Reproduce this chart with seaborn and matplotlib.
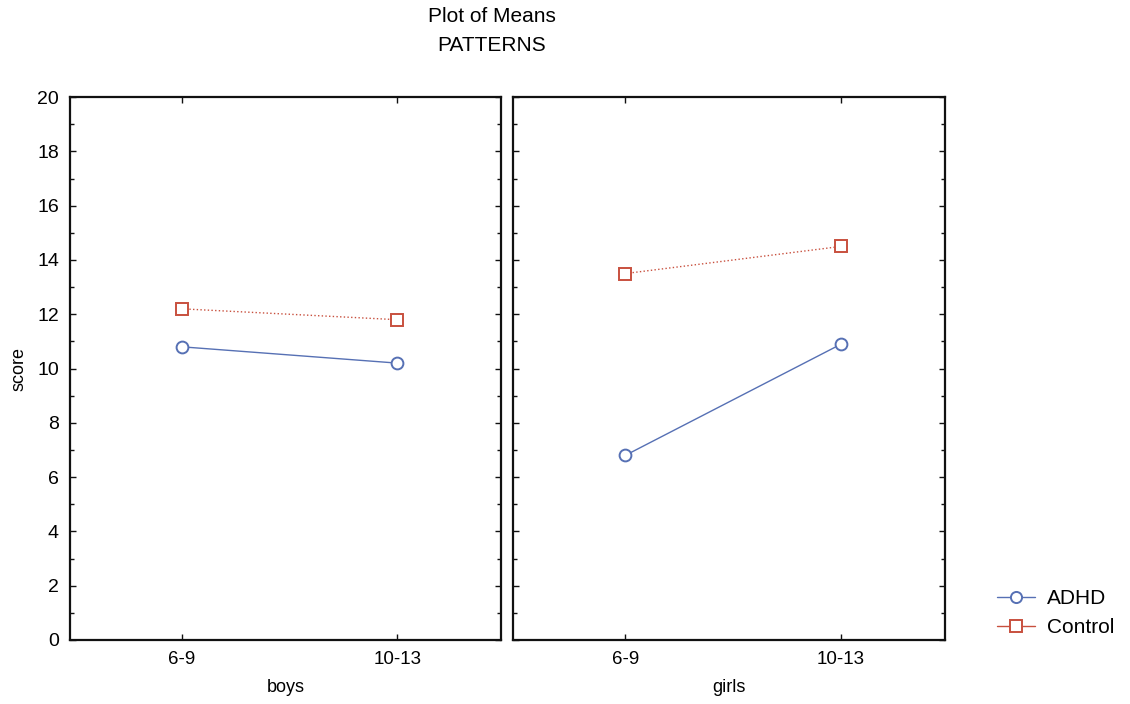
import matplotlib
matplotlib.use("Agg")
import matplotlib.pyplot as plt
from matplotlib.lines import Line2D
from matplotlib.ticker import MultipleLocator
import numpy as np
import pandas as pd
import seaborn as sns

# Mean PATTERNS score by sex, age band and group
sexes = ["boys", "girls"]
ages = ["6-9", "10-13"]
groups = ["ADHD", "Control"]
boys_adhd = [10.8, 10.2]
boys_control = [12.2, 11.8]
girls_adhd = [6.8, 10.9]
girls_control = [13.5, 14.5]

means = {
    ("boys", "ADHD"): boys_adhd,
    ("boys", "Control"): boys_control,
    ("girls", "ADHD"): girls_adhd,
    ("girls", "Control"): girls_control,
}
rows = []
for (sex, grp), vals in means.items():
    for age, v in zip(ages, vals):
        rows.append({"sex": sex, "age": age, "group": grp, "score": v})
df = pd.DataFrame(rows)

sns.set_theme(style="white")
plt.rcParams["font.family"] = ["Liberation Sans", "DejaVu Sans"]
plt.rcParams["text.color"] = "black"
plt.rcParams["axes.labelcolor"] = "black"
plt.rcParams["xtick.color"] = "black"
plt.rcParams["ytick.color"] = "black"

colors = {"ADHD": "#5670b4", "Control": "#c8503e"}
markers = {"ADHD": "o", "Control": "s"}
styles = {"ADHD": "-", "Control": ":"}

fig = plt.figure(figsize=(11.3, 7.04), dpi=100)
ax_left = fig.add_axes([0.062, 0.091, 0.381, 0.771])
ax_right = fig.add_axes([0.454, 0.091, 0.382, 0.771], sharey=ax_left)
axes = [ax_left, ax_right]

for ax, sex in zip(axes, sexes):
    sub = df[df["sex"] == sex]
    for grp in groups:
        g = sub[sub["group"] == grp].copy()
        g["pos"] = [ages.index(a) for a in g["age"]]
        sns.lineplot(
            data=g, x="pos", y="score", ax=ax, color=colors[grp],
            marker=markers[grp], markersize=8.5 if grp == "ADHD" else 8,
            markerfacecolor="white", markeredgecolor=colors[grp],
            markeredgewidth=1.4, linestyle=styles[grp],
            linewidth=1.0, legend=False, errorbar=None,
        )
    ax.set_xlim(-0.52, 1.48)
    ax.set_ylim(0, 20)
    ax.set_xticks(range(len(ages)))
    ax.set_xticklabels(ages, fontsize=13.5)
    ax.yaxis.set_major_locator(MultipleLocator(2))
    ax.yaxis.set_minor_locator(MultipleLocator(1))
    ax.tick_params(axis="both", which="both", direction="in",
                   top=True, right=True, left=True, bottom=True,
                   color="#111111")
    ax.tick_params(axis="both", which="major", length=4, width=1)
    ax.tick_params(axis="y", which="minor", length=3, width=1)
    ax.tick_params(axis="x", which="major", pad=8)
    ax.set_xlabel(sex, fontsize=13, labelpad=8)
    for sp in ax.spines.values():
        sp.set_visible(True)
        sp.set_linewidth(1.6)
        sp.set_color("#111111")

ax_left.set_ylabel("score", fontsize=13)
ax_left.yaxis.set_label_coords(-0.10, 0.5)
ax_left.tick_params(axis="y", which="major", labelsize=14, pad=8)
ax_right.set_ylabel("")
plt.setp(ax_right.get_yticklabels(), visible=False)

fig.text(0.435, 0.976, "Plot of Means", ha="center", va="center", fontsize=15)
fig.text(0.435, 0.936, "PATTERNS", ha="center", va="center", fontsize=15)

handles = [
    Line2D([0], [0], color=colors[g], linestyle="-", linewidth=1.0,
           marker=markers[g], markerfacecolor="white",
           markeredgecolor=colors[g], markeredgewidth=1.4, markersize=8)
    for g in groups
]
fig.legend(handles, groups, loc="center left", bbox_to_anchor=(0.866, 0.129),
           frameon=False, fontsize=15, handlelength=1.8, labelspacing=0.5,
           handletextpad=0.6, borderpad=0.4)

fig.savefig("out.png", dpi=100, facecolor="white")
